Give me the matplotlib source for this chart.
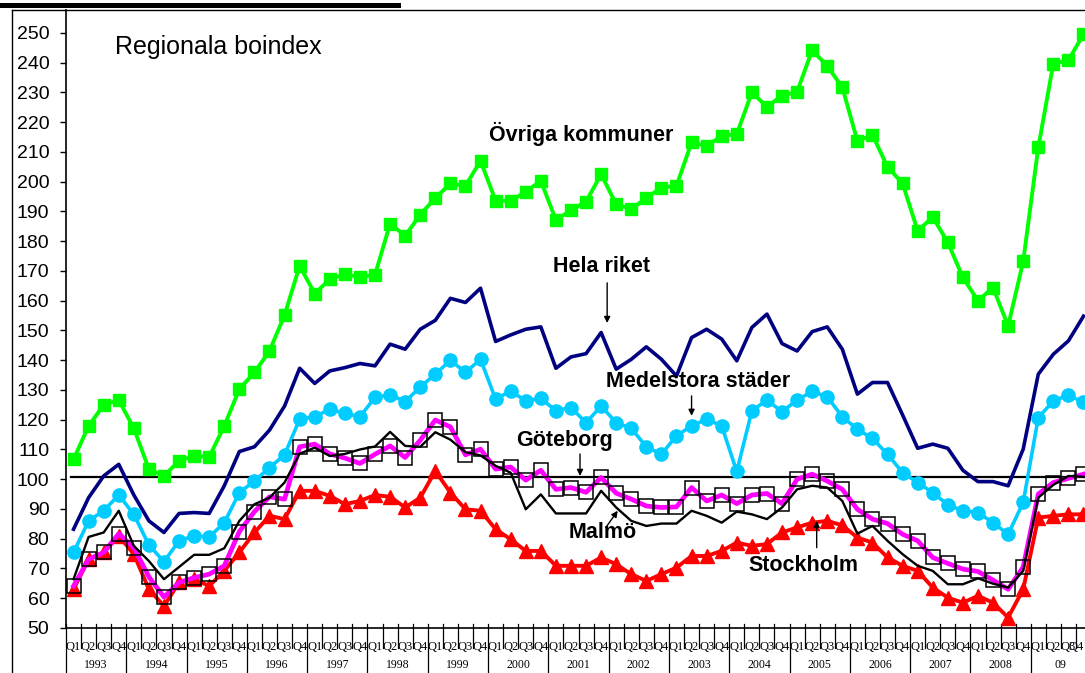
import matplotlib
matplotlib.use("Agg")
import matplotlib.pyplot as plt
from matplotlib.lines import Line2D
from matplotlib.transforms import blended_transform_factory

plt.rcParams['font.family'] = ['Liberation Sans', 'DejaVu Sans']

# kvartal 1993 Q1 .. 2009 Q4
years = ['1993', '1994', '1995', '1996', '1997', '1998', '1999', '2000',
         '2001', '2002', '2003', '2004', '2005', '2006', '2007', '2008', '09']
quarters = ['Q1', 'Q2', 'Q3', 'Q4']

ovriga = [106.7, 117.9, 125.0, 126.6, 117.1, 103.4, 101.1, 106.2, 107.8, 107.5, 117.9,
          130.3, 135.9, 143.1, 155.2, 171.7, 162.4, 167.2, 168.9, 168.0, 168.7,
          185.9, 181.8, 188.9, 194.5, 199.4, 198.6, 207.0, 193.6, 193.6, 196.6,
          200.3, 187.1, 190.4, 193.3, 202.5, 192.4, 190.8, 194.5, 198.0, 198.6,
          213.2, 212.0, 215.4, 216.0, 230.0, 225.2, 228.9, 230.2, 244.2, 238.9,
          231.7, 213.7, 215.7, 205.0, 199.4, 183.5, 188.1, 179.6, 167.8, 160.0,
          164.4, 151.5, 173.2, 211.5, 239.7, 240.8, 249.6]

hela_riket = [83.2, 93.8, 101.1, 105.0, 94.7, 86.0, 82.1, 88.5, 88.8, 88.5, 97.8,
              109.3, 110.9, 116.5, 124.6, 137.3, 132.2, 136.4,
              137.5, 138.9, 138.1, 145.4, 143.7, 150.4, 153.4, 160.8, 159.4, 164.2,
              146.3, 148.5, 150.4, 151.2, 137.3, 141.1, 142.2, 149.3, 137.0, 140.3,
              144.5, 140.3, 134.7, 147.6, 150.4, 147.1, 139.8, 151.0, 155.5, 145.6,
              143.1, 149.6, 151.2, 143.7,
              128.6, 132.5, 132.5, 121.6, 110.4, 111.8, 110.4, 103.0, 99.2, 99.2,
              97.8, 110.1, 135.3, 142.0, 146.5, 154.8]

medelstora = [75.4, 86.0, 89.4, 94.7, 88.2, 77.9, 72.3, 79.3, 81.0, 80.6, 85.4,
              95.5, 99.4, 103.9, 108.2, 120.2, 121.0, 123.5,
              122.1, 121.0, 127.5, 128.4, 126.1, 131.0, 135.3, 140.0, 135.9, 140.3,
              126.9, 129.7, 126.3, 127.2, 123.0, 124.1, 119.0,
              124.6, 119.0, 117.1, 110.9, 108.4, 114.6, 117.9, 120.2, 117.9, 102.6,
              123.0, 126.6, 122.7, 126.6, 129.5, 127.7, 121.0,
              116.8, 113.7, 108.4, 102.2, 98.9, 95.5, 91.4, 89.4, 88.8, 85.4,
              81.5, 92.2, 120.7, 126.3, 128.3, 125.8]

goteborg = [64.1, 73.1, 75.4, 81.7, 77.0, 67.2, 60.4, 65.3, 66.9, 68.1, 70.9,
            82.4, 89.1, 94.1, 93.3, 110.9, 111.8, 108.5,
            107.1, 105.3, 108.4, 111.2, 107.3, 113.1, 119.9, 117.6, 108.2, 110.1,
            103.4, 104.1, 99.7, 103.0, 96.6, 97.2, 95.6,
            100.6, 95.3, 93.3, 91.0, 90.5, 90.7, 97.2, 92.7, 94.7, 91.8,
            94.7, 95.2, 91.8, 100.0, 101.7, 99.4, 96.6,
            89.9, 86.6, 85.1, 81.5, 79.3, 73.7, 71.7, 69.8, 69.0, 66.1,
            63.0, 70.5, 95.0, 98.9, 100.3, 101.7]

malmo = [66.4, 80.6, 82.1, 89.4, 77.6, 72.5, 66.4, 70.5, 74.6, 74.6, 76.8,
         86.0, 91.6, 93.8, 98.9, 108.6, 110.6, 107.8,
         108.5, 110.0, 111.0, 115.9, 111.2, 110.9, 115.8, 113.3, 109.1, 108.0,
         104.5, 102.2, 89.9, 94.9, 88.5, 88.5, 88.5,
         96.1, 90.5, 86.0, 84.3, 85.1, 85.1, 89.4, 87.7, 85.4, 89.1,
         88.2, 86.6, 90.5, 96.6, 97.8, 97.2, 92.7,
         81.7, 84.3, 79.3, 74.8, 70.9, 69.2, 64.7, 64.7, 66.7, 64.9,
         63.6, 69.2, 93.8, 98.1, 101.1, 100.8]

stockholm = [63.0, 73.1, 75.4, 81.0, 74.8, 63.0, 57.4, 65.3, 66.4, 64.1, 69.2,
             75.4, 82.1, 87.7, 86.6, 96.1, 96.1, 94.4,
             91.6, 92.7, 94.7, 94.1, 90.5, 93.8, 102.8, 95.5, 89.9, 89.4,
             83.2, 79.8, 75.9, 75.9, 70.9, 70.9, 70.9,
             73.7, 71.4, 68.1, 65.8, 68.1, 70.3, 74.2, 74.2, 75.9, 78.7,
             77.6, 78.2, 82.1, 83.8, 85.4, 86.0, 84.5,
             80.4, 78.7, 73.7, 70.9, 69.2, 63.6, 60.2, 58.5, 60.8, 58.5,
             53.5, 63.0, 87.1, 87.7, 88.2, 88.2]

basniva = 100.8

W, H = 1085, 673
fig = plt.figure(figsize=(W / 100, H / 100), dpi=100)
ax = fig.add_axes([66 / W, 45 / H, 1 - 66 / W, 618 / H])

x = list(range(len(ovriga)))

ax.plot([-0.2, 68], [basniva, basniva], color='black', lw=1.6, zorder=1)
ax.plot(x, ovriga, color='#00FF00', lw=2.8, marker='s', ms=9, zorder=2)
ax.plot(x, hela_riket, color='#000080', lw=2.6, zorder=2)
ax.plot(x, medelstora, color='#00CCFF', lw=2.6, marker='o', ms=9.5, zorder=2)
ax.plot(x, stockholm, color='#FF0000', lw=2.8, marker='^', ms=10, zorder=3)
ax.plot(x, goteborg, color='#FF00FF', lw=3.4, marker='s', ms=9.5,
        mfc='none', mec='black', mew=1.1, zorder=4)
ax.plot(x, malmo, color='black', lw=1.7, zorder=5)

ax.set_xlim(-0.5, 67.1)
ax.set_ylim(50, 257.7)
ax.set_yticks(range(50, 251, 10))
ax.tick_params(axis='y', direction='out', length=4, width=1, pad=8, labelsize=14)
ax.set_xticks([])
for s in ['top', 'right']:
    ax.spines[s].set_visible(False)
ax.spines['left'].set_linewidth(1.2)
ax.spines['bottom'].set_linewidth(1.2)

# kategoriaxel i två nivåer
trans = blended_transform_factory(ax.transData, fig.transFigure)
serif = ['Liberation Serif', 'DejaVu Serif']
for k in range(len(x) + 1):
    bottom = 0.0 if k % 4 == 0 else (H - 648) / H
    ax.plot([k - 0.5, k - 0.5], [(H - 624) / H, bottom], color='black', lw=0.9,
            transform=trans, clip_on=False)
for i in x:
    if i == len(x) - 1:
        # sista etiketten ligger mot bildkanten
        fig.text(0.999, (H - 647) / H, quarters[i % 4], ha='right', va='center',
                 fontsize=9, family=serif)
    else:
        ax.text(i, (H - 647) / H, quarters[i % 4], transform=trans, ha='center',
                va='center', fontsize=9, family=serif)
for j, yr in enumerate(years):
    ax.text(j * 4 + 1.5, 1.5 / H, yr, transform=trans, ha='center', va='bottom',
            fontsize=8.5, family=serif)

# texter och pilar
ax.text(2.75, 245.3, 'Regionala boindex', fontsize=18, ha='left', va='center')
lbl = dict(fontsize=15.5, fontweight='bold', ha='center', va='center')
ax.text(33.7, 216.1, 'Övriga kommuner', **lbl)
ax.text(35.0, 171.6, 'Hela riket', **lbl)
ax.text(41.4, 132.7, 'Medelstora städer', **lbl)
ax.text(32.6, 112.9, 'Göteborg', **lbl)
ax.text(35.1, 82.0, 'Malmö', **lbl)
ax.text(48.4, 70.9, 'Stockholm', **lbl)

pil = dict(arrowstyle='-|>', color='black', lw=1.0, mutation_scale=9, shrinkA=0, shrinkB=0)
ax.annotate('', xy=(35.4, 152.5), xytext=(35.4, 166.0), arrowprops=pil)
ax.annotate('', xy=(41.0, 121.3), xytext=(41.0, 128.0), arrowprops=pil)
ax.annotate('', xy=(33.6, 101.1), xytext=(33.6, 108.5), arrowprops=pil)
ax.annotate('', xy=(36.1, 89.4), xytext=(35.3, 83.7), arrowprops=pil)
ax.annotate('', xy=(49.3, 86.0), xytext=(49.3, 77.0), arrowprops=pil)

# diagramram
fig.add_artist(Line2D([12 / W, 12 / W], [0, 1 - 10 / H], color='black', lw=1.0))
fig.add_artist(Line2D([12 / W, 1], [1 - 10 / H, 1 - 10 / H], color='black', lw=1.0))
fig.add_artist(Line2D([0, 398 / W], [1 - 4.5 / H, 1 - 4.5 / H], color='black', lw=3.6))

fig.savefig('out.png', dpi=100)
